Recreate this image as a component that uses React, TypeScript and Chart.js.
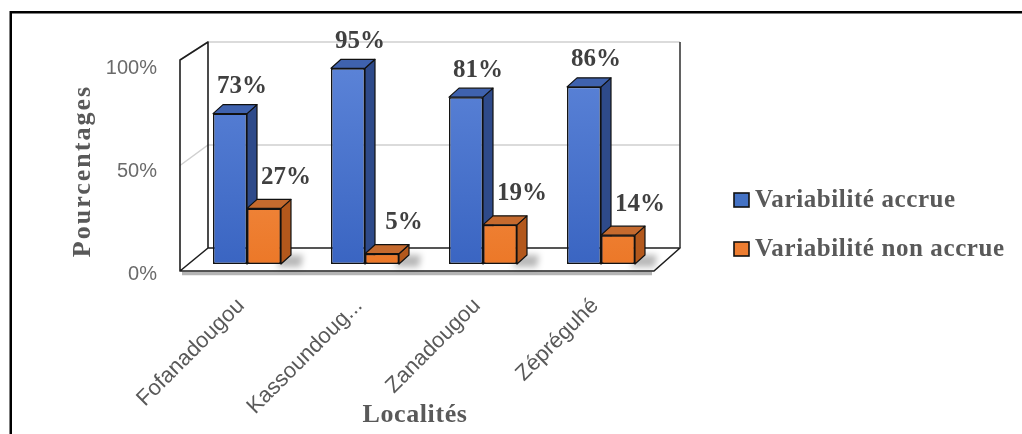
import React, { useEffect, useRef } from 'react';
import { Chart, registerables } from 'chart.js';

Chart.register(...registerables);

// ---------- data ----------
const categories = ['Fofanadougou', 'Kassoundoug...', 'Zanadougou', 'Zépréguhé'];
const seriesNames = ['Variabilité accrue', 'Variabilité non accrue'];
const accrue = [73, 95, 81, 86];
const nonAccrue = [27, 5, 19, 14];
const yTickValues = [0, 50, 100];

// ---------- styles ----------
const SERIF = "'Liberation Serif', 'Times New Roman', serif";
const SANS = "'Liberation Sans', Arial, sans-serif";
const palette = [
  { light: '#5C84D8', dark: '#3A65C2', side: '#2E4A8A', cap: '#3F62AE', legend: '#4472C4' },
  { light: '#F59A5A', dark: '#EC7828', side: '#B3581C', cap: '#C56A2E', legend: '#ED7D31' },
];
const DX = 10;
const DY = -9;
const LABEL_OFF = [
  { x: 12, y: 27 },
  { x: 22, y: 31 },
];

function poly(ctx: CanvasRenderingContext2D, pts: number[][], fill: string, stroke?: string, lw = 1.2) {
  ctx.beginPath();
  ctx.moveTo(pts[0][0], pts[0][1]);
  for (let i = 1; i < pts.length; i++) ctx.lineTo(pts[i][0], pts[i][1]);
  ctx.closePath();
  ctx.fillStyle = fill;
  ctx.fill();
  if (stroke) {
    ctx.strokeStyle = stroke;
    ctx.lineWidth = lw;
    ctx.lineJoin = 'round';
    ctx.stroke();
  }
}

const framePlugin = {
  id: 'frame',
  beforeDraw(chart: any) {
    const { ctx, width, height } = chart;
    ctx.save();
    ctx.fillStyle = '#ffffff';
    ctx.fillRect(0, 0, width, height);
    ctx.restore();
  },
  afterDraw(chart: any) {
    const { ctx } = chart;
    ctx.save();
    ctx.strokeStyle = '#000000';
    ctx.lineWidth = 2.5;
    ctx.strokeRect(10.75, 12.25, 2000, 2000);
    ctx.restore();
  },
};

// shift / letter-space the axis titles slightly (as in the original figure)
const titleStylePlugin = {
  id: 'titleStyle',
  afterLayout(chart: any) {
    const tweak: Record<string, { dx: number; dy: number; ls: string }> = {
      x: { dx: -9, dy: 3, ls: '0.6px' },
      y: { dx: 0, dy: 10, ls: '2px' },
    };
    Object.keys(tweak).forEach((id) => {
      const scale = chart.scales[id];
      if (!scale || scale.__patched) return;
      const orig = scale.drawTitle;
      const t = tweak[id];
      scale.drawTitle = function (...args: any[]) {
        const ctx = this.ctx;
        ctx.save();
        ctx.translate(t.dx, t.dy);
        ctx.letterSpacing = t.ls;
        orig.apply(this, args);
        ctx.restore();
      };
      scale.__patched = true;
    });
  },
};

const wallPlugin = {
  id: 'wall3d',
  beforeDatasetsDraw(chart: any) {
    const { ctx, chartArea: a, scales } = chart;
    const y = scales.y;
    const yb = y.getPixelForValue(0);
    const yt = y.getPixelForValue(100);
    const BX = 20, BY = -16, FXL = -8, FXR = -6, FY = 7;
    const bl = a.left + BX, br = a.right + BX;
    const fl = a.left + FXL, fr = a.right + FXR;
    const backY = (v: number) => y.getPixelForValue(v) + BY;
    const frontY = (v: number) => yb + FY + ((yt + 2) - (yb + FY)) * v / 100;
    ctx.save();
    ctx.lineWidth = 1.5;
    for (const t of y.ticks) {
      const v = t.value;
      if (v === 0) continue;
      ctx.strokeStyle = '#d0d0d0';
      ctx.beginPath();
      ctx.moveTo(fl, frontY(v));
      ctx.lineTo(bl, backY(v));
      ctx.lineTo(br, backY(v));
      ctx.stroke();
    }
    ctx.strokeStyle = '#b4b4b4';
    ctx.lineWidth = 3.5;
    ctx.beginPath();
    ctx.moveTo(fl + 2, frontY(0) + 2.5);
    ctx.lineTo(fr - 2, frontY(0) + 2.5);
    ctx.stroke();
    ctx.strokeStyle = '#1e1e1e';
    ctx.lineWidth = 1.6;
    ctx.lineJoin = 'round';
    ctx.beginPath();
    ctx.moveTo(fl, frontY(0));
    ctx.lineTo(fl, frontY(100));
    ctx.lineTo(bl, backY(100));
    ctx.lineTo(bl, backY(0));
    ctx.lineTo(fl, frontY(0));
    ctx.lineTo(fr, frontY(0));
    ctx.lineTo(br, backY(0));
    ctx.lineTo(bl, backY(0));
    ctx.stroke();
    ctx.strokeStyle = '#3a3a3a';
    ctx.beginPath();
    ctx.moveTo(br, backY(0));
    ctx.lineTo(br, backY(100));
    ctx.stroke();
    ctx.filter = 'blur(3px)';
    const meta = chart.getDatasetMeta(1);
    meta.data.forEach((el: any) => {
      const { x, base, width } = el.getProps(['x', 'base', 'width'], true);
      const r = x + width / 2;
      poly(ctx, [[r - 4, base + 3], [r + DX + 10, base + 3], [r + DX + 12, base + DY], [r, base + DY]], 'rgba(0,0,0,0.28)');
    });
    ctx.filter = 'none';
    ctx.restore();
  },
};

const bar3dPlugin = {
  id: 'bar3d',
  afterDatasetsDraw(chart: any) {
    const { ctx } = chart;
    ctx.save();
    [0, 1].forEach((di) => {
      const meta = chart.getDatasetMeta(di);
      const pal = palette[di];
      meta.data.forEach((el: any) => {
        if (di === 1) el.draw(ctx);
        const { x, y, base, width } = el.getProps(['x', 'y', 'base', 'width'], true);
        const l = x - width / 2;
        const r = x + width / 2;
        poly(ctx, [[r, y], [r + DX, y + DY], [r + DX, base + DY], [r, base]], pal.side, '#111111');
        poly(ctx, [[l, y], [l + DX, y + DY], [r + DX, y + DY], [r, y]], pal.cap, '#111111');
      });
    });
    ctx.font = `bold 25px ${SERIF}`;
    ctx.fillStyle = '#404040';
    ctx.textAlign = 'center';
    ctx.textBaseline = 'middle';
    [0, 1].forEach((di) => {
      const meta = chart.getDatasetMeta(di);
      const values = chart.data.datasets[di].data as number[];
      meta.data.forEach((el: any, i: number) => {
        const { x, y } = el.getProps(['x', 'y'], true);
        ctx.fillText(`${values[i]}%`, x + LABEL_OFF[di].x, y - LABEL_OFF[di].y);
      });
    });
    ctx.restore();
  },
};

const legendPlugin = {
  id: 'legendRight',
  afterDraw(chart: any) {
    const { ctx } = chart;
    ctx.save();
    ctx.font = `bold 25px ${SERIF}`;
    ctx.textAlign = 'left';
    ctx.textBaseline = 'middle';
    (ctx as any).letterSpacing = '0.6px';
    chart.data.datasets.forEach((ds: any, i: number) => {
      const cy = 200 + i * 49;
      ctx.fillStyle = palette[i].legend;
      ctx.fillRect(734, cy - 7, 15, 14);
      ctx.strokeStyle = '#111111';
      ctx.lineWidth = 1.6;
      ctx.strokeRect(734, cy - 7, 15, 14);
      ctx.fillStyle = '#595959';
      ctx.fillText(ds.label, 755, cy + 1);
    });
    ctx.restore();
  },
};

function gradientFor(idx: number) {
  return (c: any) => {
    const { chart } = c;
    const area = chart.chartArea;
    if (!area) return palette[idx].legend;
    const g = chart.ctx.createLinearGradient(0, area.top, 0, area.bottom);
    g.addColorStop(0, palette[idx].light);
    g.addColorStop(1, palette[idx].dark);
    return g;
  };
}

export default function App() {
  const ref = useRef<HTMLCanvasElement | null>(null);
  useEffect(() => {
    if (!ref.current) return;
    const chart = new Chart(ref.current, {
      type: 'bar',
      data: {
        labels: categories,
        datasets: [
          {
            label: seriesNames[0],
            data: accrue,
            backgroundColor: gradientFor(0),
            borderColor: '#111111',
            borderWidth: 1.5,
            borderSkipped: false,
            categoryPercentage: 0.576,
            barPercentage: 1,
          },
          {
            label: seriesNames[1],
            data: nonAccrue,
            backgroundColor: gradientFor(1),
            borderColor: '#111111',
            borderWidth: 1.5,
            borderSkipped: false,
            categoryPercentage: 0.576,
            barPercentage: 1,
          },
        ],
      },
      options: {
        animation: false,
        responsive: true,
        maintainAspectRatio: false,
        layout: { padding: { left: 64, top: 58, right: 362, bottom: 2 } },
        plugins: {
          legend: { display: false },
          tooltip: { enabled: false },
        },
        scales: {
          x: {
            grid: { display: false, drawTicks: false },
            border: { display: false },
            afterFit: (s: any) => { s.height = 168; },
            ticks: {
              autoSkip: false,
              maxRotation: 45,
              minRotation: 45,
              padding: 29,
              labelOffset: -6,
              color: '#595959',
              font: { family: SANS, size: 22 },
            },
            title: {
              display: true,
              text: 'Localités',
              color: '#595959',
              font: { family: SERIF, size: 26, weight: 'bold' },
              padding: { top: 0, bottom: 4 },
            },
          },
          y: {
            min: 0,
            max: 100,
            afterFit: (s: any) => { s.width = 124; },
            afterBuildTicks: (s: any) => { s.ticks = yTickValues.map((v) => ({ value: v })); },
            grid: { display: false, drawTicks: false },
            border: { display: false },
            ticks: {
              padding: 31,
              labelOffset: 10,
              color: '#6a6a6a',
              font: { family: SANS, size: 20 },
              callback: (v: any) => `${v}%`,
            },
            title: {
              display: true,
              text: 'Pourcentages',
              color: '#595959',
              font: { family: SERIF, size: 26, weight: 'bold' },
              padding: { top: 4, bottom: 0 },
            },
          },
        },
      },
      plugins: [framePlugin, titleStylePlugin, wallPlugin, bar3dPlugin, legendPlugin],
    });
    return () => chart.destroy();
  }, []);
  return (
    <div style={{ position: 'fixed', left: 0, top: 0, width: 1022, height: 434 }}>
      <canvas ref={ref} />
    </div>
  );
}
